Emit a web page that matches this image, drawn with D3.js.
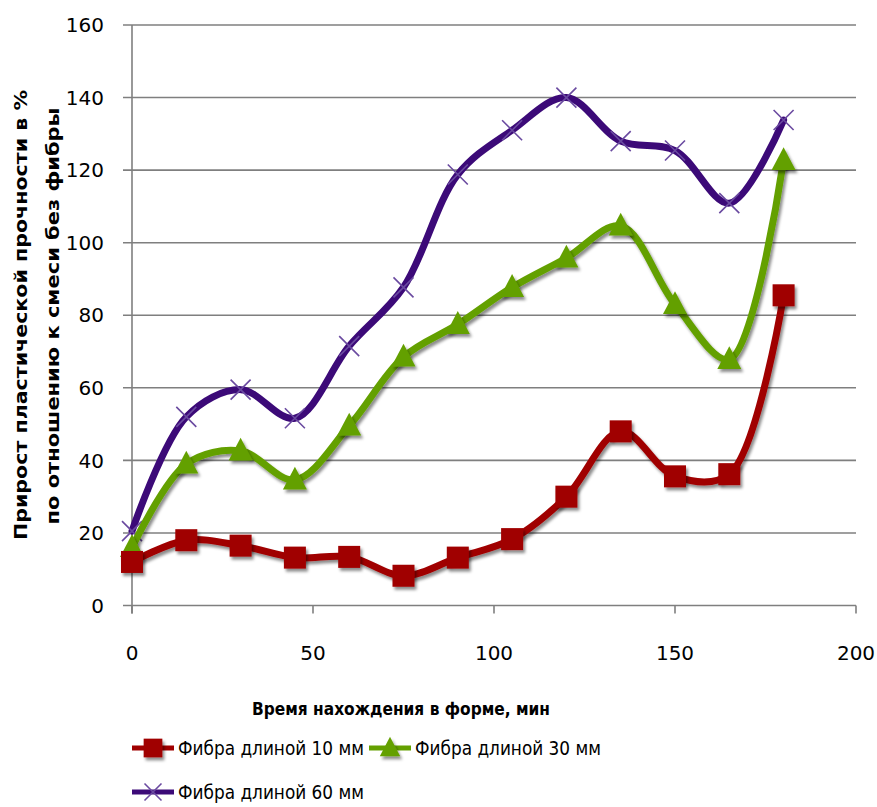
<!DOCTYPE html>
<html><head><meta charset="utf-8">
<script src="https://cdn.jsdelivr.net/npm/d3@7"></script>
<style>body{margin:0;background:#fff}svg{display:block}</style>
</head><body><svg id="c" width="877" height="807"></svg>
<script>
const times = [0, 15, 30, 45, 60, 75, 90, 105, 120, 135, 150, 165, 180];
const fiber10 = [12, 18, 16.5, 13.2, 13.4, 8.2, 13.2, 18.3, 30, 48, 35.6, 36.2, 85.5];
const fiber30 = [16, 39, 42.6, 34.6, 49.5, 68.5, 77.5, 87.7, 95.8, 104.6, 83, 67.8, 122.7];
const fiber60 = [20.5, 52, 59.5, 51.6, 71.5, 87.7, 118.8, 131, 140, 128, 125.4, 110.9, 133.8];
const seriesNames = ["Фибра длиной 10 мм", "Фибра длиной 30 мм", "Фибра длиной 60 мм"];
const yTicks = [0, 20, 40, 60, 80, 100, 120, 140, 160];
const xTicks = [0, 50, 100, 150, 200];
const xTitle = "Время нахождения в форме, мин";
const yTitle1 = "Прирост пластической  прочности в %";
const yTitle2 = "по отношению к смеси без фибры";

const colors = ["#A00000", "#64A000", "#3C0A78"];
const markers = ["square", "triangle", "cross"];
const svg = d3.select("#c");
const font = "'DejaVu Sans', Verdana, sans-serif";
const x = d3.scaleLinear().domain([0, 200]).range([132, 856]);
const y = d3.scaleLinear().domain([0, 160]).range([605.5, 25]);

const defs = svg.append("defs");
const f = defs.append("filter").attr("id", "sh").attr("x", "-50%").attr("y", "-50%").attr("width", "200%").attr("height", "200%");
f.append("feDropShadow").attr("dx", 2).attr("dy", 3).attr("stdDeviation", 1.5).attr("flood-color", "#000").attr("flood-opacity", 0.45);

// gridlines
svg.append("g").selectAll("line").data(yTicks).join("line")
  .attr("x1", x(0) - 9).attr("x2", x(200)).attr("y1", d => y(d)).attr("y2", d => y(d))
  .attr("stroke", "#7f7f7f").attr("stroke-width", 1.6);
// y axis line
svg.append("line").attr("x1", x(0)).attr("x2", x(0)).attr("y1", y(160)).attr("y2", y(0) + 8)
  .attr("stroke", "#7f7f7f").attr("stroke-width", 1.6);
// x ticks
svg.append("g").selectAll("line").data(xTicks).join("line")
  .attr("x1", d => x(d)).attr("x2", d => x(d)).attr("y1", y(0)).attr("y2", y(0) + 8)
  .attr("stroke", "#7f7f7f").attr("stroke-width", 1.6);

// tick labels
svg.append("g").selectAll("text").data(yTicks).join("text")
  .attr("x", 104).attr("y", d => y(d)).attr("dy", "0.36em").attr("text-anchor", "end")
  .attr("font-family", font).attr("font-size", 20).attr("fill", "#000").text(d => d);
svg.append("g").selectAll("text").data(xTicks).join("text")
  .attr("x", d => x(d)).attr("y", 660).attr("text-anchor", "middle")
  .attr("font-family", font).attr("font-size", 20).attr("fill", "#000").text(d => d);

// titles
svg.append("text").attr("x", 401).attr("y", 715).attr("text-anchor", "middle")
  .attr("font-family", font).attr("font-size", 18.5).attr("font-weight", "bold")
  .attr("textLength", 298).attr("lengthAdjust", "spacingAndGlyphs").text(xTitle);
svg.append("text").attr("transform", "translate(27,315) rotate(-90)").attr("text-anchor", "middle")
  .attr("font-family", font).attr("font-size", 18).attr("font-weight", "bold")
  .attr("textLength", 450).attr("lengthAdjust", "spacingAndGlyphs").text(yTitle1);
svg.append("text").attr("transform", "translate(59,316) rotate(-90)").attr("text-anchor", "middle")
  .attr("font-family", font).attr("font-size", 18).attr("font-weight", "bold")
  .attr("textLength", 417).attr("lengthAdjust", "spacingAndGlyphs").text(yTitle2);

function drawMarker(g, type, cx, cy, color, scale) {
  scale = scale || 1;
  if (type === "square") {
    const s = 22 * scale;
    g.append("rect").attr("x", cx - s / 2).attr("y", cy - s / 2).attr("width", s).attr("height", s)
      .attr("fill", color).attr("filter", "url(#sh)");
  } else if (type === "triangle") {
    const s = 24 * scale;
    g.append("path").attr("d", `M${cx},${cy - s * 0.55}L${cx + s / 2},${cy + s * 0.4}L${cx - s / 2},${cy + s * 0.4}Z`)
      .attr("fill", color).attr("filter", "url(#sh)");
  } else {
    const s = 10 * scale;
    g.append("path").attr("d", `M${cx - s},${cy - s}L${cx + s},${cy + s}M${cx - s},${cy + s}L${cx + s},${cy - s}`)
      .attr("stroke", "#6a4aa0").attr("stroke-width", 1.6).attr("fill", "none");
  }
}

const all = [fiber10, fiber30, fiber60];
const line = d3.line().x(d => x(d[0])).y(d => y(d[1])).curve(d3.curveCatmullRom.alpha(0.5));
[2, 1, 0].forEach(i => {
  const pts = times.map((t, j) => [t, all[i][j]]);
  const g = svg.append("g");
  g.append("path").datum(pts).attr("d", line).attr("fill", "none")
    .attr("stroke", colors[i]).attr("stroke-width", 7).attr("stroke-linejoin", "round").attr("stroke-linecap", "round")
    .attr("filter", i === 2 ? null : "url(#sh)");
  pts.forEach(p => drawMarker(g, markers[i], x(p[0]), y(p[1]), colors[i]));
});

// legend
const leg = [
  {i: 0, lx: 132, ty: 748},
  {i: 1, lx: 369, ty: 748},
  {i: 2, lx: 132, ty: 792}
];
leg.forEach(l => {
  const g = svg.append("g");
  g.append("line").attr("x1", l.lx).attr("x2", l.lx + 42).attr("y1", l.ty).attr("y2", l.ty)
    .attr("stroke", colors[l.i]).attr("stroke-width", 5);
  drawMarker(g, markers[l.i], l.lx + 21, l.ty, colors[l.i], 0.85);
  g.append("text").attr("x", l.lx + 46).attr("y", l.ty).attr("dy", "0.36em")
    .attr("font-family", font).attr("font-size", 19).attr("fill", "#000")
    .attr("textLength", 186).attr("lengthAdjust", "spacingAndGlyphs").text(seriesNames[l.i]);
});
</script></body></html>
